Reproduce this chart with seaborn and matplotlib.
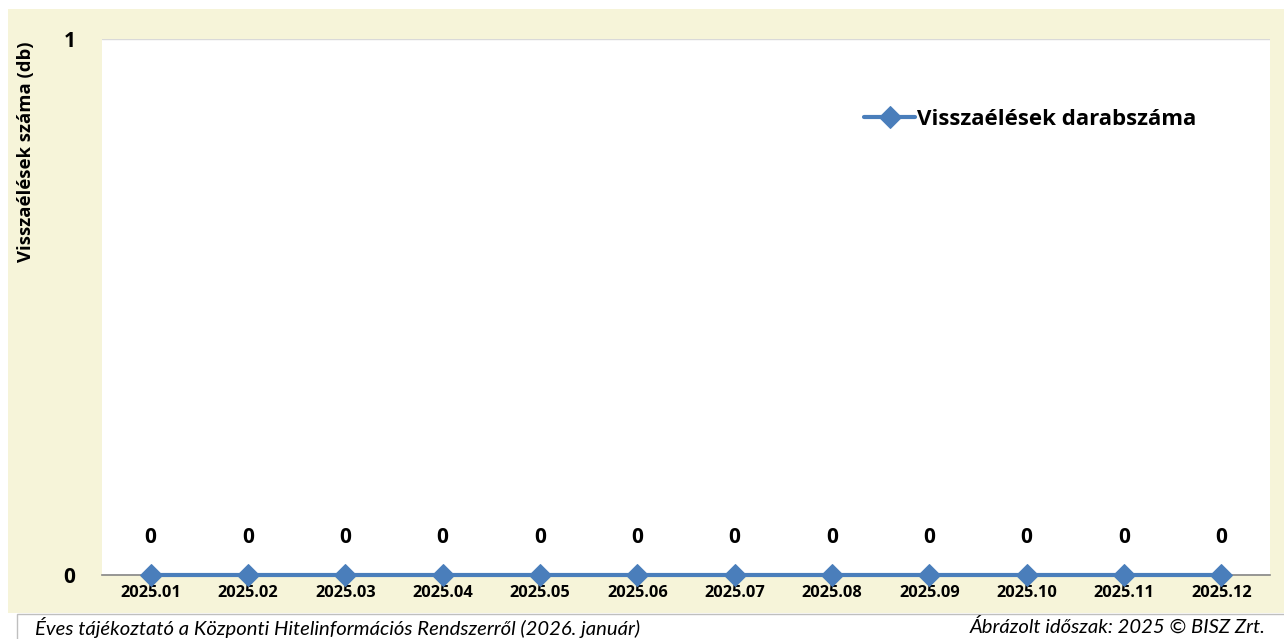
import matplotlib
matplotlib.use("Agg")
import matplotlib.pyplot as plt
import seaborn as sns
import pandas as pd
from matplotlib.patches import Rectangle

# adatok
honapok = ["2025.01", "2025.02", "2025.03", "2025.04", "2025.05", "2025.06",
           "2025.07", "2025.08", "2025.09", "2025.10", "2025.11", "2025.12"]
visszaelesek = [0, 0, 0, 0, 0, 0, 0, 0, 0, 0, 0, 0]
sorozat_nev = "Visszaélések darabszáma"
y_cim = "Visszaélések száma (db)"
lablec_bal = "Éves tájékoztató a Központi Hitelinformációs Rendszerről (2026. január)"
lablec_jobb = "Ábrázolt időszak: 2025 © BISZ Zrt."

df = pd.DataFrame({"Hónap": honapok, "Db": visszaelesek})
df["x"] = range(len(df))

sns.set_style("white")
plt.rcParams["font.family"] = ["Open Sans", "DejaVu Sans"]
plt.rcParams["text.color"] = "black"
plt.rcParams["axes.labelcolor"] = "black"
plt.rcParams["xtick.color"] = "black"
plt.rcParams["ytick.color"] = "black"
lablec_font = ["Lato", "DejaVu Sans"]

W, H = 1284, 639
fig = plt.figure(figsize=(W / 100, H / 100), dpi=100)
fig.patch.set_facecolor("white")

# bézs háttér és lábléc doboz
fig.patches.append(Rectangle((8 / W, (H - 613) / H), 1 - 8 / W, (613 - 9) / H,
                             transform=fig.transFigure, facecolor="#F6F4D9",
                             edgecolor="none", zorder=-2))
fig.patches.append(Rectangle((17 / W, -0.01), 1, (H - 614) / H + 0.01,
                             transform=fig.transFigure, facecolor="white",
                             edgecolor="#BFBFBF", lw=1, zorder=-2))

ax = fig.add_axes([102 / W, (H - 575) / H, (1270 - 102) / W, (575 - 39) / H])
ax.set_facecolor("white")

kek = "#4A7EBB"
sns.lineplot(data=df, x="x", y="Db", ax=ax, color=kek, lw=3.0, marker="D",
             markersize=11, markeredgecolor=kek, clip_on=False, label=sorozat_nev,
             zorder=5)

for xi, v in zip(df["x"], df["Db"]):
    ax.text(xi, v + 0.05, str(v), ha="center", va="bottom",
            fontsize=15, fontweight="bold", color="black")

ax.set_xlim(-0.5, len(honapok) - 0.5)
ax.set_ylim(0, 1)
ax.set_yticks([0, 1])
ax.set_yticklabels(["0", "1"], fontsize=15, fontweight="bold")
ax.tick_params(axis="y", length=0, pad=19, labelcolor="black")
ax.set_xticks(df["x"])
ax.set_xticklabels(honapok, fontsize=11.8, fontweight="bold")
ax.tick_params(axis="x", length=0, pad=7, labelcolor="black")
ax.set_xticks([i - 0.5 for i in range(len(honapok) + 1)], minor=True)
ax.tick_params(axis="x", which="minor", length=5, color="#868686", width=1)
ax.grid(axis="y", color="#D9D9D9", lw=1)
for s in ["top", "right", "left"]:
    ax.spines[s].set_visible(False)
ax.spines["bottom"].set_color("#868686")
ax.spines["bottom"].set_linewidth(1.2)

ax.set_xlabel("")
ax.set_ylabel(y_cim, fontsize=13.3, fontweight="bold", color="black")
ax.yaxis.set_label_coords(-67 / (1270 - 102), 0.79)

leg = ax.legend(loc="upper left", bbox_to_anchor=(853 / W, (H - 98) / H),
                bbox_transform=fig.transFigure, frameon=False,
                prop={"size": 16, "weight": "bold"}, handlelength=2.3,
                handletextpad=0.1, borderpad=0)
for t in leg.get_texts():
    t.set_color("black")

fig.text(35 / W, (H - 627) / H, lablec_bal, fontsize=14.6, style="italic",
         va="center", ha="left", family=lablec_font, color="black")
fig.text(1266 / W, (H - 627) / H, lablec_jobb, fontsize=14.6, style="italic",
         va="center", ha="right", family=lablec_font, color="black")

fig.savefig("out.png", dpi=100)
